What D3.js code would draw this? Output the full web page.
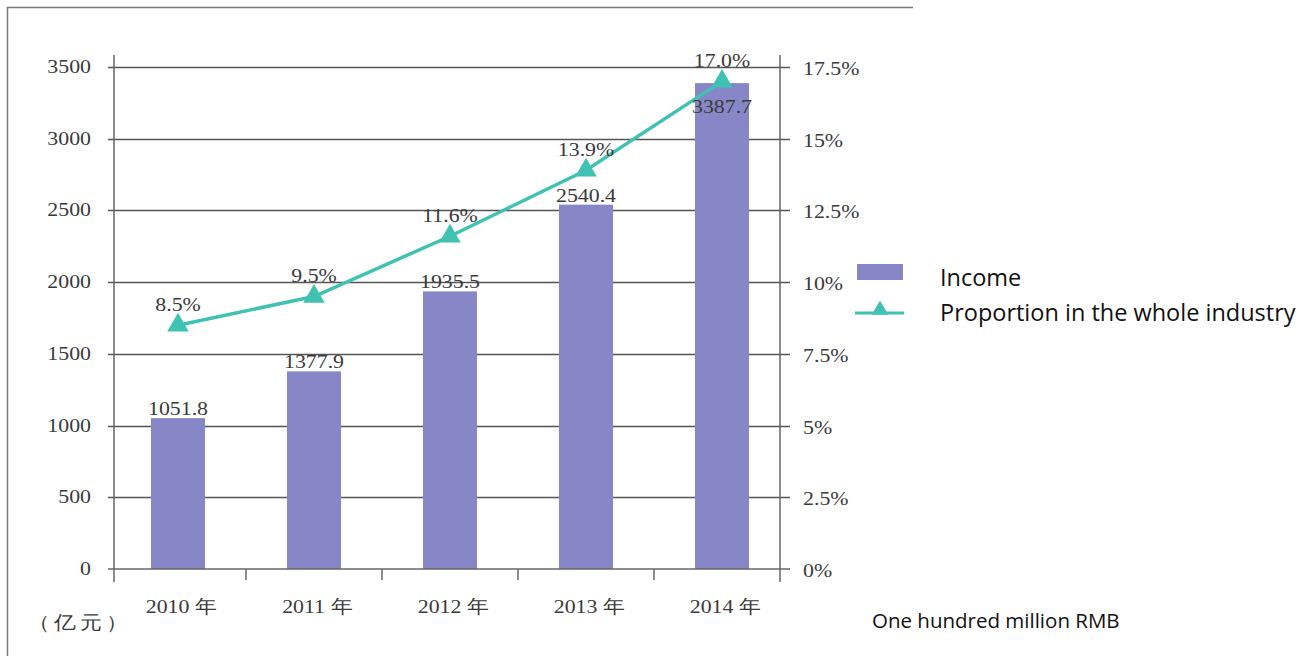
<!DOCTYPE html>
<html>
<head>
<meta charset="utf-8">
<script src="https://cdn.jsdelivr.net/npm/d3@7"></script>
<style>
  html, body { margin: 0; padding: 0; background: #fff; }
  svg { display: block; }
</style>
</head>
<body>
<svg id="chart" width="1309" height="659"></svg>
<script>
// Income and industry share, 2010–2014
const years = ["2010 年", "2011 年", "2012 年", "2013 年", "2014 年"];
const income = [1051.8, 1377.9, 1935.5, 2540.4, 3387.7];
const incomeLabels = ["1051.8", "1377.9", "1935.5", "2540.4", "3387.7"];
const share = [8.5, 9.5, 11.6, 13.9, 17.0];
const shareLabels = ["8.5%", "9.5%", "11.6%", "13.9%", "17.0%"];
const leftTicks = [0, 500, 1000, 1500, 2000, 2500, 3000, 3500];
const rightTicks = [0, 2.5, 5, 7.5, 10, 12.5, 15, 17.5];
const rightTickLabels = ["0%", "2.5%", "5%", "7.5%", "10%", "12.5%", "15%", "17.5%"];
const legendItems = ["Income", "Proportion in the whole industry"];
const unitNote = "One hundred million RMB";
const unitCn = "（亿元）";

const barColor = "#8787c7";
const lineColor = "#3fc2b1";
const axisColor = "#555";
const textColor = "#3a3a3a";
const serif = "'Liberation Serif', 'Times New Roman', serif";
const sans = "'Open Sans', 'Noto Sans', sans-serif";
const stretch = 1.15; // serif labels are set slightly wide

const svg = d3.select("#chart");

// serif label placed at (px, py), widened horizontally about its anchor
function serifText(sel, px, py, size) {
  return sel
    .attr("transform", (d, i) => `translate(${px(d, i)},${py(d, i)}) scale(${stretch},1)`)
    .attr("font-family", serif).attr("font-size", size).attr("fill", textColor);
}

// frame
svg.append("path")
  .attr("d", "M7.5,656 L7.5,7.5 L913,7.5")
  .attr("fill", "none").attr("stroke", "#7a7a7a").attr("stroke-width", 1.5);

const x = d3.scaleBand().domain(years).range([110, 790]).paddingInner(0);
const cx = i => x(years[i]) + x.bandwidth() / 2;
const xLeft = 114, xRight = 780;
const y = d3.scaleLinear().domain([0, 3500]).range([569, 67]);
const y2 = d3.scaleLinear().domain([0, 17.5]).range([569, 67]);
const barW = 54;

// gridlines (extend past both axes as tick marks)
svg.append("g").selectAll("line").data(leftTicks.slice(1)).join("line")
  .attr("x1", 108).attr("x2", 790)
  .attr("y1", d => Math.round(y(d)) + 0.5).attr("y2", d => Math.round(y(d)) + 0.5)
  .attr("stroke", axisColor).attr("stroke-width", 1.3);

// bars
svg.append("g").selectAll("rect").data(income).join("rect")
  .attr("x", (d, i) => cx(i) - barW / 2)
  .attr("width", barW)
  .attr("y", d => y(d))
  .attr("height", d => y(0) - y(d))
  .attr("fill", barColor);

// axes
const axisG = svg.append("g").attr("stroke", "#666").attr("stroke-width", 1.5);
axisG.append("line").attr("x1", xLeft).attr("x2", xLeft).attr("y1", 55).attr("y2", 582);
axisG.append("line").attr("x1", xRight).attr("x2", xRight).attr("y1", 55).attr("y2", 582);
axisG.append("line").attr("x1", 108).attr("x2", 790).attr("y1", y(0)).attr("y2", y(0));
axisG.selectAll(".xt").data(years.slice(1)).join("line").attr("class", "xt")
  .attr("x1", d => x(d)).attr("x2", d => x(d))
  .attr("y1", y(0)).attr("y2", 580);

// left tick labels
serifText(svg.append("g").selectAll("text").data(leftTicks).join("text"),
  () => 91, d => y(d) + 6, 19)
  .attr("text-anchor", "end")
  .text(d => d);

// right tick labels
serifText(svg.append("g").selectAll("text").data(rightTicks).join("text"),
  () => 803, d => y2(d) + 8, 19)
  .text((d, i) => rightTickLabels[i]);

// category labels
serifText(svg.append("g").selectAll("text").data(years).join("text"),
  (d, i) => cx(i) + 3, () => 613, 19)
  .attr("text-anchor", "middle")
  .text(d => d);

serifText(svg.append("g").selectAll("text").data([unitCn]).join("text"),
  () => 28, () => 629, 19)
  .attr("letter-spacing", 4)
  .text(d => d);

// share line
const line = d3.line()
  .x((d, i) => cx(i))
  .y(d => y2(d));
svg.append("path").datum(share)
  .attr("d", line)
  .attr("fill", "none").attr("stroke", lineColor).attr("stroke-width", 3.5);

const tri = d3.symbol().type(d3.symbolTriangle).size(200);
svg.append("g").selectAll("path").data(share).join("path")
  .attr("transform", (d, i) => `translate(${cx(i)},${y2(d)})`)
  .attr("d", tri)
  .attr("fill", lineColor);

// bar value labels: above the bar, or just inside its top where the share marker sits on it
const nearMarker = i => Math.abs(y(income[i]) - y2(share[i])) < 30;
serifText(svg.append("g").selectAll("text").data(income).join("text"),
  (d, i) => cx(i), (d, i) => nearMarker(i) ? y(d) + 30 : y(d) - 3, 19)
  .attr("text-anchor", "middle")
  .text((d, i) => incomeLabels[i]);

// share value labels
serifText(svg.append("g").selectAll("text").data(share).join("text"),
  (d, i) => cx(i), d => y2(d) - 14, 19)
  .attr("text-anchor", "middle")
  .text((d, i) => shareLabels[i]);

// legend
const lg = svg.append("g");
lg.append("rect").attr("x", 857).attr("y", 264).attr("width", 46).attr("height", 16).attr("fill", barColor);
lg.append("line").attr("x1", 855).attr("x2", 904).attr("y1", 313).attr("y2", 313)
  .attr("stroke", lineColor).attr("stroke-width", 3);
lg.append("path").attr("transform", "translate(880,310)")
  .attr("d", d3.symbol().type(d3.symbolTriangle).size(120)).attr("fill", lineColor);
lg.selectAll("text").data(legendItems).join("text")
  .attr("x", 940).attr("y", (d, i) => 286 + i * 35)
  .attr("font-family", sans).attr("font-size", 23.5).attr("fill", "#111")
  .text(d => d);

svg.append("text").attr("x", 872).attr("y", 628)
  .attr("font-family", sans).attr("font-size", 20.5).attr("fill", "#111")
  .text(unitNote);
</script>
</body>
</html>
